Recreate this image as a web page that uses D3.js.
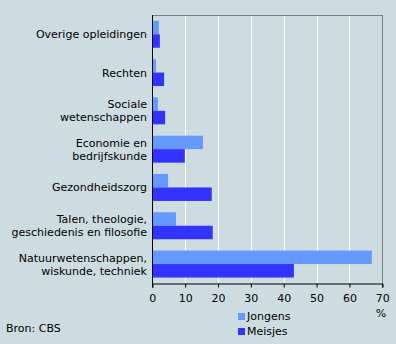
<!DOCTYPE html>
<html><head><meta charset="utf-8">
<script src="https://cdn.jsdelivr.net/npm/d3@7"></script>
<style>
html,body{margin:0;padding:0;background:#CDDCE1;}
svg{display:block;}
text{font-family:"DejaVu Sans",Verdana,sans-serif;font-size:11px;fill:#000;}
</style></head><body>
<script>
const categories = [
  ["Overige opleidingen"],
  ["Rechten"],
  ["Sociale", "wetenschappen"],
  ["Economie en", "bedrijfskunde"],
  ["Gezondheidszorg"],
  ["Talen, theologie,", "geschiedenis en filosofie"],
  ["Natuurwetenschappen,", "wiskunde, techniek"]
];
const jongens = [2.0, 1.1, 1.7, 15.4, 4.8, 7.2, 66.8];
const meisjes = [2.3, 3.6, 3.9, 9.9, 18.1, 18.4, 43.1];
const seriesNames = ["Jongens", "Meisjes"];
const colors = ["#6699FF", "#3333FF"];
const xTicks = [0, 10, 20, 30, 40, 50, 60, 70];

const W = 396, H = 344;
const m = {left: 152.3, right: 396 - 382.3, top: 15, bottom: 344 - 283.3};
const svg = d3.select("body").append("svg").attr("width", W).attr("height", H);

const x = d3.scaleLinear().domain([0, 70]).range([m.left, W - m.right]);
const y = d3.scaleBand().domain(d3.range(categories.length)).range([m.top, H - m.bottom]).paddingInner(0.295).paddingOuter(0.15);
const sub = d3.scaleBand().domain([0, 1]).range([0, y.bandwidth()]);

// gridlines
svg.append("g").selectAll("line").data(xTicks.filter(t => t > 0 && t < 70)).join("line")
  .attr("x1", d => Math.round(x(d)) + 0.5).attr("x2", d => Math.round(x(d)) + 0.5)
  .attr("y1", m.top).attr("y2", H - m.bottom)
  .attr("stroke", "#fff").attr("stroke-width", 1);

// bars
const data = [jongens, meisjes];
data.forEach((vals, s) => {
  svg.append("g").selectAll("rect").data(vals).join("rect")
    .attr("x", x(0)).attr("y", (d, i) => y(i) + sub(s))
    .attr("width", d => x(d) - x(0)).attr("height", sub.bandwidth())
    .attr("fill", colors[s]);
});

// frame: top and right gray
svg.append("line").attr("x1", x(0)).attr("x2", x(70) + 0.5).attr("y1", m.top + 0.5).attr("y2", m.top + 0.5).attr("stroke", "#808080");
svg.append("line").attr("x1", Math.round(x(70)) + 0.5).attr("x2", Math.round(x(70)) + 0.5).attr("y1", m.top).attr("y2", H - m.bottom).attr("stroke", "#808080");

// x axis
const xAxis = d3.axisBottom(x).tickValues(xTicks).tickSize(4).tickPadding(7);
const gx = svg.append("g").attr("transform", `translate(0,${Math.round(H - m.bottom) + 0.5})`).call(xAxis);
gx.select(".domain").attr("stroke", "#000");
gx.selectAll(".tick line").attr("stroke", "#000");
gx.selectAll("text").style("font-family", '"DejaVu Sans",Verdana,sans-serif').style("font-size", "11px");

// y axis line
svg.append("line").attr("x1", Math.round(x(0)) + 0.5).attr("x2", Math.round(x(0)) + 0.5)
  .attr("y1", m.top).attr("y2", H - m.bottom + 4).attr("stroke", "#000");

// category labels
categories.forEach((lines, i) => {
  const cy = y(i) + y.bandwidth() / 2;
  const n = lines.length;
  const t = svg.append("text").attr("text-anchor", "end");
  lines.forEach((ln, k) => {
    t.append("tspan").attr("x", 147).attr("y", cy + 4 + (k - (n - 1) / 2) * 13).text(ln);
  });
});

// % label
svg.append("text").attr("x", 381).attr("y", 317).attr("text-anchor", "middle").text("%");

// legend
seriesNames.forEach((name, s) => {
  svg.append("rect").attr("x", 238).attr("y", 313 + s * 15).attr("width", 7).attr("height", 7).attr("fill", colors[s]);
  svg.append("text").attr("x", 247).attr("y", 320 + s * 15).text(name);
});

// source
svg.append("text").attr("x", 6).attr("y", 332).text("Bron: CBS");
</script>
</body></html>
